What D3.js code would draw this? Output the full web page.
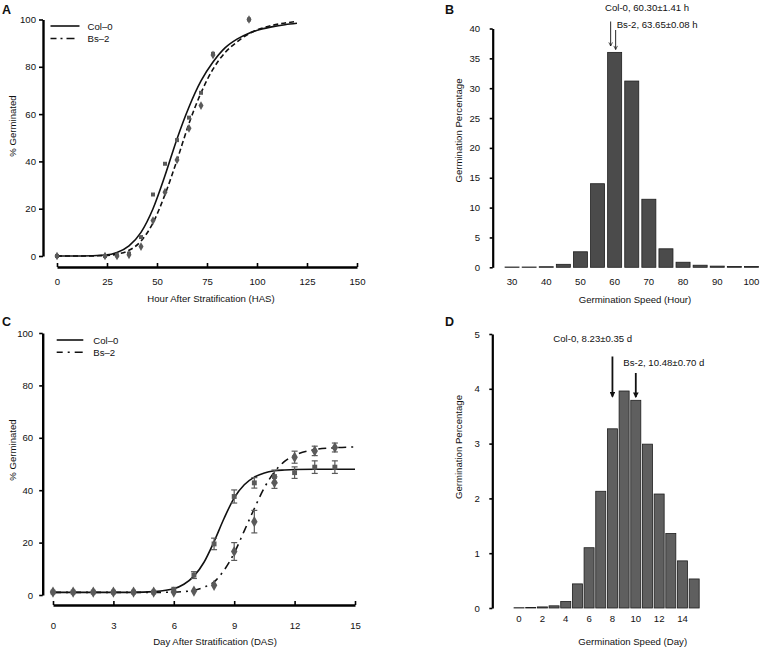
<!DOCTYPE html>
<html><head><meta charset="utf-8">
<script src="https://cdn.jsdelivr.net/npm/d3@7"></script>
<style>
body{margin:0;background:#fff}
svg{display:block}
text{font-family:"Liberation Sans",Arial,Helvetica,sans-serif;fill:#111}
</style>
</head><body>
<svg id="chart" width="762" height="648"></svg>
<script>
// ---------- Panel A data ----------
const hoursA = [0, 24, 30, 36, 42, 48, 54, 60, 66, 72, 78, 96];
const colA   = [0, 0, 0.3, 1, 8, 26, 39, 49, 58.5, 69, 85.5, 100];
const bsA    = [0, 0, 0, 0.5, 4, 15, 27, 40.6, 54, 63.6, 85, 100];
const fitHoursA = [0, 12, 24, 30, 36, 42, 48, 54, 60, 66, 72, 78, 84, 90, 96, 102, 108, 114, 120];
const fitColA   = [0, 0, 0.4, 1.5, 4.3, 10, 20, 34, 49.5, 63, 74, 82, 88, 91.7, 94.2, 95.9, 97, 97.8, 98.4];
const fitBsA    = [0, 0, 0.2, 0.8, 2.4, 6.3, 14, 26, 40.5, 56, 69, 79, 86, 90.5, 94, 96.2, 97.6, 98.5, 99.2];
const xTicksA = [0, 25, 50, 75, 100, 125, 150];
const yTicksA = [0, 20, 40, 60, 80, 100];

// ---------- Panel B data ----------
const speedB = [30, 35, 40, 45, 50, 55, 60, 65, 70, 75, 80, 85, 90, 95, 100];
const pctB   = [0.05, 0.05, 0.1, 0.5, 2.6, 14, 36, 31.2, 11.4, 3.1, 0.85, 0.35, 0.2, 0.12, 0.12];
const xLabelsB = [30, 40, 50, 60, 70, 80, 90, 100];
const yTicksB = [0, 5, 10, 15, 20, 25, 30, 35, 40];
const notesB = ["Col-0, 60.30±1.41 h", "Bs-2, 63.65±0.08 h"];

// ---------- Panel C data ----------
const daysC   = [0, 1, 2, 3, 4, 5, 6, 7, 8, 9, 10, 11, 12, 13, 14];
const colC    = [1.1, 1.1, 1.1, 1.1, 1.1, 1.1, 2.2, 7.6, 19.5, 37.6, 42.8, 45.2, 46.7, 48.8, 48.8];
const colCErr = [0.3, 0.3, 0.3, 0.3, 0.3, 0.3, 0.5, 1.3, 2.2, 2.5, 2.0, 2.5, 2.2, 2.4, 2.4];
const bsC     = [1.1, 1.1, 1.1, 1.1, 1.1, 1.1, 1.1, 1.5, 3.7, 16.6, 28, 42.9, 52.6, 55, 56.3];
const bsCErr  = [0.3, 0.3, 0.3, 0.3, 0.3, 0.3, 0.3, 0.5, 0.6, 3.4, 4.3, 2.2, 2.3, 1.8, 1.7];
const fitDaysC = [0, 1, 2, 3, 4, 5, 6, 6.5, 7, 7.5, 8, 8.5, 9, 9.5, 10, 10.5, 11, 11.5, 12, 13, 14, 15];
const fitColC  = [1, 1, 1, 1, 1, 1.3, 2.4, 4.1, 7.2, 12.5, 20.4, 29.3, 37.1, 42.1, 45, 46.6, 47.4, 47.7, 47.9, 48, 48, 48];
const fitBsC   = [1, 1, 1, 1, 1, 1, 1.1, 1.3, 1.8, 3, 5, 9.5, 16, 24.5, 33, 41, 47, 51, 53.3, 55.5, 56.2, 56.5];
const xTicksC = [0, 3, 6, 9, 12, 15];
const yTicksC = [0, 20, 40, 60, 80, 100];

// ---------- Panel D data ----------
const daysD = [0, 1, 2, 3, 4, 5, 6, 7, 8, 9, 10, 11, 12, 13, 14, 15];
const pctD  = [0.005, 0.01, 0.02, 0.04, 0.12, 0.44, 1.1, 2.13, 3.27, 3.96, 3.79, 2.99, 2.08, 1.36, 0.86, 0.53];
const xLabelsD = [0, 2, 4, 6, 8, 10, 12, 14];
const yTicksD = [0, 1, 2, 3, 4, 5];
const notesD = ["Col-0, 8.23±0.35 d", "Bs-2, 10.48±0.70 d"];

const seriesNames = ["Col\u20130", "Bs\u20132"];

// ---------- helpers ----------
const svg = d3.select("#chart");
const FS = "9.6px";
const markerColor = "#5a5a5a";

function styleAxis(g, w) {
  g.select(".domain").attr("stroke", "#000").attr("stroke-width", w);
  g.selectAll(".tick line").attr("stroke", "#000").attr("stroke-width", 1.6);
  g.selectAll(".tick text").attr("font-size", FS).attr("fill", "#111")
    .attr("font-family", '"Liberation Sans",Arial,sans-serif');
}
function letter(t, x, y) {
  svg.append("text").attr("x", x).attr("y", y).attr("font-size", "12.5px")
    .attr("font-weight", "bold").text(t);
}
function yTitle(t, x, y) {
  svg.append("text").attr("transform", `translate(${x},${y}) rotate(-90)`)
    .attr("text-anchor", "middle").attr("font-size", FS).text(t);
}
function xTitle(t, x, y) {
  svg.append("text").attr("x", x).attr("y", y).attr("text-anchor", "middle")
    .attr("font-size", FS).text(t);
}
const sq = d3.symbol().type(d3.symbolSquare);
const dm = d3.symbol().type(d3.symbolDiamond);
const fmtInt = d3.format("d");

// arrowheads
const defs = svg.append("defs");
defs.append("marker").attr("id", "thinHead").attr("viewBox", "0 0 10 10")
  .attr("refX", 9).attr("refY", 5).attr("markerWidth", 5).attr("markerHeight", 5)
  .attr("orient", "auto").append("path").attr("d", "M1,1 L9,5 L1,9")
  .attr("fill", "none").attr("stroke", "#111").attr("stroke-width", 1.6);
defs.append("marker").attr("id", "boldHead").attr("viewBox", "0 0 10 10")
  .attr("refX", 8).attr("refY", 5).attr("markerWidth", 3.2).attr("markerHeight", 3.2)
  .attr("orient", "auto").append("path").attr("d", "M0,0 L10,5 L0,10 Z").attr("fill", "#111");

// =============== PANEL A ===============
(function () {
  const x = d3.scaleLinear().domain([0, 150]).range([57, 357]);
  const y = d3.scaleLinear().domain([0, 100]).range([256, 19.5]);
  const gy = svg.append("g").attr("transform", "translate(43,0)")
    .call(d3.axisLeft(y).tickValues(yTicksA).tickSizeInner(4).tickSizeOuter(0).tickPadding(3));
  styleAxis(gy, 2.4);
  const gx = svg.append("g").attr("transform", "translate(0,267)")
    .call(d3.axisBottom(x).tickValues(xTicksA).tickSizeInner(-4).tickSizeOuter(0).tickPadding(11));
  styleAxis(gx, 2.4);

  const line = d3.line().x(d => x(d[0])).y(d => y(d[1])).curve(d3.curveMonotoneX);
  svg.append("path").datum(fitHoursA.map((h, i) => [h, fitColA[i]]))
    .attr("d", line).attr("fill", "none").attr("stroke", "#111").attr("stroke-width", 1.6);
  svg.append("path").datum(fitHoursA.map((h, i) => [h, fitBsA[i]]))
    .attr("d", line).attr("fill", "none").attr("stroke", "#111").attr("stroke-width", 1.6)
    .attr("stroke-dasharray", "5,3");

  svg.append("g").selectAll("path").data(hoursA.map((h, i) => [h, colA[i]])).join("path")
    .attr("d", sq.size(16)).attr("fill", markerColor)
    .attr("transform", d => `translate(${x(d[0])},${y(d[1])})`);
  svg.append("g").selectAll("path").data(hoursA.map((h, i) => [h, bsA[i]])).join("path")
    .attr("d", dm.size(22)).attr("fill", markerColor)
    .attr("transform", d => `translate(${x(d[0])},${y(d[1])})`);

  // legend
  const lg = svg.append("g");
  lg.append("line").attr("x1", 50.5).attr("x2", 79.5).attr("y1", 26).attr("y2", 26)
    .attr("stroke", "#111").attr("stroke-width", 1.6);
  lg.append("line").attr("x1", 50.5).attr("x2", 79.5).attr("y1", 38.5).attr("y2", 38.5)
    .attr("stroke", "#111").attr("stroke-width", 1.6).attr("stroke-dasharray", "6,4,2,4,8");
  lg.append("text").attr("x", 87.5).attr("y", 29.5).attr("font-size", FS).text(seriesNames[0]);
  lg.append("text").attr("x", 87.5).attr("y", 42).attr("font-size", FS).text(seriesNames[1]);

  letter("A", 2, 13.5);
  yTitle("% Germinated", 15.8, 126);
  xTitle("Hour After Stratification (HAS)", 211, 301.8);
})();

// =============== PANEL B ===============
(function () {
  const x = d3.scaleBand().domain(speedB).range([503.5, 760]).paddingInner(0.18).paddingOuter(0.09);
  const y = d3.scaleLinear().domain([0, 40]).range([267.3, 28.5]);
  const gy = svg.append("g").attr("transform", "translate(492.7,0)")
    .call(d3.axisLeft(y).tickValues(yTicksB).tickFormat(fmtInt).tickSizeInner(3).tickSizeOuter(0).tickPadding(9.5));
  styleAxis(gy, 2.2);

  svg.append("g").selectAll("rect").data(speedB.map((s, i) => [s, pctB[i]])).join("rect")
    .attr("x", d => x(d[0])).attr("width", x.bandwidth())
    .attr("y", d => y(d[1])).attr("height", d => y(0) - y(d[1]))
    .attr("fill", "#4b4b4b").attr("stroke", "#1e1e1e").attr("stroke-width", 0.8);

  svg.append("g").selectAll("text").data(xLabelsB).join("text")
    .attr("x", d => x(d) + x.bandwidth() / 2).attr("y", 285.3)
    .attr("text-anchor", "middle").attr("font-size", FS).text(d => d);

  const c60 = x(60) + x.bandwidth() / 2;
  svg.append("text").attr("x", 605).attr("y", 11).attr("font-size", FS).text(notesB[0]);
  svg.append("text").attr("x", 616.7).attr("y", 27.5).attr("font-size", FS).text(notesB[1]);
  svg.append("line").attr("x1", c60 - 4).attr("x2", c60 - 4).attr("y1", 21.5).attr("y2", 46)
    .attr("stroke", "#111").attr("stroke-width", 0.9).attr("marker-end", "url(#thinHead)");
  svg.append("line").attr("x1", c60 + 1).attr("x2", c60 + 1).attr("y1", 30).attr("y2", 49.5)
    .attr("stroke", "#111").attr("stroke-width", 0.9).attr("marker-end", "url(#thinHead)");

  letter("B", 445, 13.5);
  yTitle("Germination Percentage", 461.5, 130.5);
  xTitle("Germination Speed (Hour)", 635, 302.5);
})();

// =============== PANEL C ===============
(function () {
  const x = d3.scaleLinear().domain([0, 15]).range([53, 355]);
  const y = d3.scaleLinear().domain([0, 100]).range([595, 333]);
  const gy = svg.append("g").attr("transform", "translate(42.7,0)")
    .call(d3.axisLeft(y).tickValues(yTicksC).tickSizeInner(3.5).tickSizeOuter(0).tickPadding(6));
  styleAxis(gy, 2.4);
  const gx = svg.append("g").attr("transform", "translate(0,605)")
    .call(d3.axisBottom(x).tickValues(xTicksC).tickSizeInner(-4).tickSizeOuter(0).tickPadding(17.5));
  styleAxis(gx, 2.4);

  const line = d3.line().x(d => x(d[0])).y(d => y(d[1])).curve(d3.curveMonotoneX);
  svg.append("path").datum(fitDaysC.map((t, i) => [t, fitColC[i]]))
    .attr("d", line).attr("fill", "none").attr("stroke", "#111").attr("stroke-width", 1.6);
  svg.append("path").datum(fitDaysC.map((t, i) => [t, fitBsC[i]]))
    .attr("d", line).attr("fill", "none").attr("stroke", "#111").attr("stroke-width", 1.6)
    .attr("stroke-dasharray", "8,5,2,5");

  function errBars(vals, errs) {
    const g = svg.append("g").attr("stroke", markerColor).attr("stroke-width", 1.2);
    daysC.forEach((t, i) => {
      if (errs[i] < 1) return;
      const cx = x(t), y1 = y(vals[i] - errs[i]), y2 = y(vals[i] + errs[i]);
      g.append("line").attr("x1", cx).attr("x2", cx).attr("y1", y1).attr("y2", y2);
      g.append("line").attr("x1", cx - 3).attr("x2", cx + 3).attr("y1", y1).attr("y2", y1);
      g.append("line").attr("x1", cx - 3).attr("x2", cx + 3).attr("y1", y2).attr("y2", y2);
    });
  }
  errBars(colC, colCErr);
  errBars(bsC, bsCErr);

  svg.append("g").selectAll("path").data(daysC.map((t, i) => [t, colC[i]])).join("path")
    .attr("d", sq.size(24)).attr("fill", markerColor)
    .attr("transform", d => `translate(${x(d[0])},${y(d[1])})`);
  svg.append("g").selectAll("path").data(daysC.map((t, i) => [t, bsC[i]])).join("path")
    .attr("d", dm.size(36)).attr("fill", markerColor)
    .attr("transform", d => `translate(${x(d[0])},${y(d[1])})`);

  const lg = svg.append("g");
  lg.append("line").attr("x1", 56.7).attr("x2", 83.3).attr("y1", 340).attr("y2", 340)
    .attr("stroke", "#111").attr("stroke-width", 1.6);
  lg.append("line").attr("x1", 56.7).attr("x2", 83.3).attr("y1", 352.3).attr("y2", 352.3)
    .attr("stroke", "#111").attr("stroke-width", 1.6).attr("stroke-dasharray", "6,5,2,5,8");
  lg.append("text").attr("x", 93.3).attr("y", 343.5).attr("font-size", FS).text(seriesNames[0]);
  lg.append("text").attr("x", 93.3).attr("y", 355.8).attr("font-size", FS).text(seriesNames[1]);

  letter("C", 2, 326);
  yTitle("% Germinated", 15.8, 450);
  xTitle("Day After Stratification (DAS)", 215, 645);
})();

// =============== PANEL D ===============
(function () {
  const x = d3.scaleBand().domain(daysD).range([513.2, 700]).paddingInner(0.14).paddingOuter(0.07);
  const y = d3.scaleLinear().domain([0, 5]).range([608, 334]);
  const gy = svg.append("g").attr("transform", "translate(492.3,0)")
    .call(d3.axisLeft(y).tickValues(yTicksD).tickFormat(fmtInt).tickSizeInner(3).tickSizeOuter(0).tickPadding(9.5));
  styleAxis(gy, 2.2);

  svg.append("g").selectAll("rect").data(daysD.map((t, i) => [t, pctD[i]])).join("rect")
    .attr("x", d => x(d[0])).attr("width", x.bandwidth())
    .attr("y", d => y(d[1])).attr("height", d => y(0) - y(d[1]))
    .attr("fill", "#5f5f5f").attr("stroke", "#1e1e1e").attr("stroke-width", 0.8);

  svg.append("g").selectAll("text").data(xLabelsD).join("text")
    .attr("x", d => x(d) + x.bandwidth() / 2).attr("y", 622)
    .attr("text-anchor", "middle").attr("font-size", FS).text(d => d);

  const c8 = x(8) + x.bandwidth() / 2, c10 = x(10) + x.bandwidth() / 2;
  svg.append("text").attr("x", 553.3).attr("y", 341.5).attr("font-size", FS).text(notesD[0]);
  svg.append("text").attr("x", 623.3).attr("y", 366).attr("font-size", FS).text(notesD[1]);
  svg.append("line").attr("x1", c8).attr("x2", c8).attr("y1", 356.5).attr("y2", 396.5)
    .attr("stroke", "#111").attr("stroke-width", 1.8).attr("marker-end", "url(#boldHead)");
  svg.append("line").attr("x1", c10).attr("x2", c10).attr("y1", 373).attr("y2", 397)
    .attr("stroke", "#111").attr("stroke-width", 1.8).attr("marker-end", "url(#boldHead)");

  letter("D", 445, 325.5);
  yTitle("Germination Percentage", 461.5, 447);
  xTitle("Germination Speed (Day)", 632.7, 645);
})();
</script>
</body></html>
